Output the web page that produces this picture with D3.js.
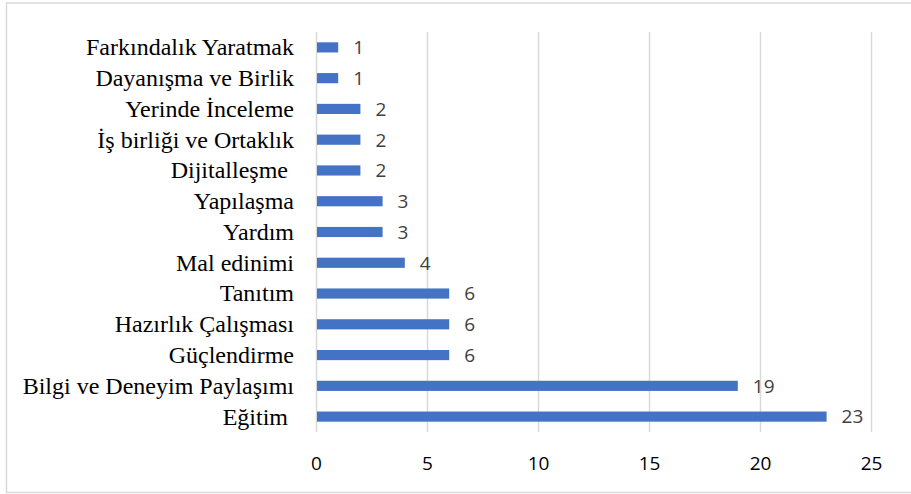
<!DOCTYPE html>
<html>
<head>
<meta charset="utf-8">
<script src="https://cdn.jsdelivr.net/npm/d3@7/dist/d3.min.js"></script>
<style>
  html, body { margin: 0; padding: 0; background: #fff; }
  svg { display: block; }
  .cat { white-space: pre; }
</style>
</head>
<body>
<script>
// Categories (top to bottom) and their counts
const categories = [
  "Farkındalık Yaratmak",
  "Dayanışma ve Birlik",
  "Yerinde İnceleme",
  "İş birliği ve Ortaklık",
  "Dijitalleşme ",
  "Yapılaşma",
  "Yardım",
  "Mal edinimi",
  "Tanıtım",
  "Hazırlık Çalışması",
  "Güçlendirme",
  "Bilgi ve Deneyim Paylaşımı",
  "Eğitim "
];
const values = [1, 1, 2, 2, 2, 3, 3, 4, 6, 6, 6, 19, 23];
const xTicks = [0, 5, 10, 15, 20, 25];

const W = 911, H = 494;
const svg = d3.select("body").append("svg").attr("width", W).attr("height", H);

// Outer frame of the chart area
svg.append("path")
  .attr("d", `M 920 3 L 6.5 3 L 6.5 492.5 L 920 492.5`)
  .attr("fill", "none").attr("stroke", "#d9d9d9").attr("stroke-width", 1.5);

const plot = { left: 316, right: 871, top: 32, bottom: 432 };

const x = d3.scaleLinear().domain([0, 25]).range([plot.left, plot.right]);
const y = d3.scaleBand().domain(categories).range([plot.top, plot.bottom]).paddingInner(0.67).paddingOuter(0.335);

// Vertical gridlines
svg.append("g").selectAll("line").data(xTicks).join("line")
  .attr("x1", d => x(d) + 0.5).attr("x2", d => x(d) + 0.5)
  .attr("y1", plot.top).attr("y2", plot.bottom)
  .attr("stroke", "#d9d9d9").attr("stroke-width", 1.5);

// Bars
svg.append("g").selectAll("rect").data(values).join("rect")
  .attr("x", x(0) + 1)
  .attr("y", (d, i) => y(categories[i]))
  .attr("width", d => x(d) - x(0) - 1)
  .attr("height", y.bandwidth())
  .attr("fill", "#4472c4");

// Value labels
svg.append("g").selectAll("text").data(values).join("text")
  .attr("x", d => x(d) + 15)
  .attr("y", (d, i) => y(categories[i]) + y.bandwidth() / 2)
  .attr("dy", "0.36em")
  .attr("font-family", "'Open Sans', 'Liberation Sans', sans-serif")
  .attr("font-size", 19)
  .attr("fill", "#404040")
  .text(d => d);

// Category labels
svg.append("g").selectAll("text").data(categories).join("text")
  .attr("class", "cat")
  .attr("x", 294)
  .attr("y", d => y(d) + y.bandwidth() / 2)
  .attr("dy", "0.33em")
  .attr("text-anchor", "end")
  .attr("font-family", "'Liberation Serif', 'Times New Roman', serif")
  .attr("font-size", 24)
  .attr("fill", "#000")
  .text(d => d);

// X axis tick labels
const xAxis = d3.axisBottom(x).tickValues(xTicks).tickSize(0).tickPadding(0);
const gx = svg.append("g").attr("transform", `translate(0, 456)`).call(xAxis);
gx.select(".domain").remove();
gx.selectAll("text")
  .attr("font-family", "'Open Sans', 'Liberation Sans', sans-serif")
  .attr("font-size", 19)
  .attr("fill", "#000");
</script>
</body>
</html>
